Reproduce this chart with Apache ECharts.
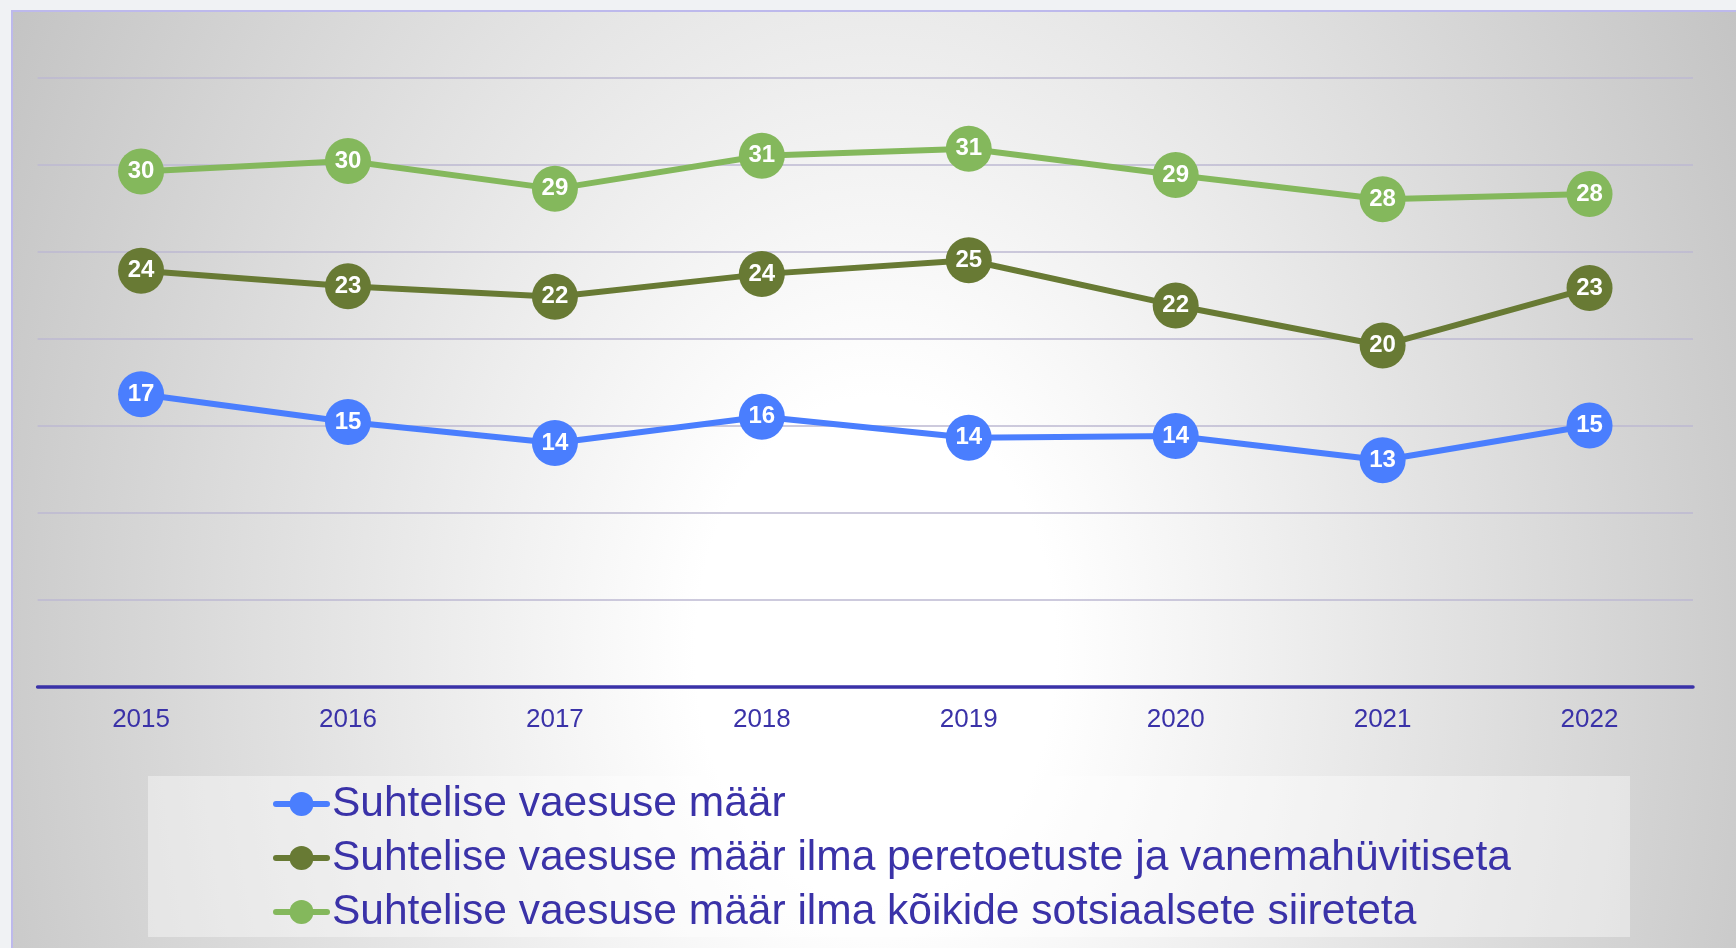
<!DOCTYPE html>
<html>
<head>
<meta charset="utf-8">
<script src="https://cdn.jsdelivr.net/npm/echarts@6/dist/echarts.min.js"></script>
<style>
  html, body { margin: 0; padding: 0; background: #f0f2f4; }
  #frame {
    position: absolute; left: 11px; top: 10px; width: 1725px; height: 938px;
    border-left: 2px solid #bdb9ec; border-top: 2px solid #bdb9ec;
    background: radial-gradient(ellipse 1000px 1400px at 50% 68%, #ffffff 0%, #ffffff 18%, #c2c2c2 100%);
  }
  #main { position: absolute; left: 0; top: 0; width: 1736px; height: 948px; }
</style>
</head>
<body>
<div id="frame"></div>
<div id="main"></div>
<script>
var years = ['2015', '2016', '2017', '2018', '2019', '2020', '2021', '2022'];
var names = [
  'Suhtelise vaesuse määr',
  'Suhtelise vaesuse määr ilma peretoetuste ja vanemahüvitiseta',
  'Suhtelise vaesuse määr ilma kõikide sotsiaalsete siireteta'
];
var relPoverty = [16.8, 15.2, 14.0, 15.5, 14.3, 14.4, 13.0, 15.0];
var noFamilyBenefits = [23.9, 23.0, 22.4, 23.7, 24.5, 21.9, 19.6, 22.9];
var noTransfers = [29.6, 30.2, 28.6, 30.5, 30.9, 29.4, 28.0, 28.3];
var colors = ['#4a7efe', '#687a34', '#84b85c'];
var ink = '#3a32a8';

var chart = echarts.init(document.getElementById('main'));

function lineSeries(name, data, color) {
  return {
    name: name,
    type: 'line',
    data: data,
    symbol: 'circle',
    symbolSize: 46,
    showAllSymbol: true,
    itemStyle: { color: color },
    lineStyle: { color: color, width: 6, cap: 'round' },
    label: {
      show: true,
      position: 'inside',
      color: '#ffffff',
      fontWeight: 'bold',
      fontSize: 24,
      fontFamily: 'Liberation Sans, Arial, sans-serif',
      formatter: function (p) { return Math.round(p.value); }
    },
    emphasis: { disabled: true }
  };
}

var option = {
  animation: false,
  textStyle: { fontFamily: 'Liberation Sans, Arial, sans-serif' },
  grid: { left: 37.6, right: 43, top: 77.5, bottom: 261.5, containLabel: false },
  xAxis: {
    type: 'category',
    data: years,
    boundaryGap: true,
    axisLine: { lineStyle: { color: ink, width: 3.5 } },
    axisTick: { show: false },
    axisLabel: { color: ink, fontSize: 26, margin: 20 }
  },
  yAxis: {
    type: 'value',
    min: 0,
    max: 35,
    interval: 5,
    axisLine: { show: false },
    axisTick: { show: false },
    axisLabel: { show: false },
    splitLine: { lineStyle: { color: '#bdb9d2', width: 1.5 } }
  },
  graphic: [{
    type: 'rect',
    shape: { x: 148, y: 776, width: 1482, height: 161 },
    style: { fill: 'rgba(255,255,255,0.4)' },
    z: -1
  }],
  legend: {
    orient: 'vertical',
    left: 148,
    top: 776,
    padding: [5, 0, 0, 125],
    itemWidth: 51,
    itemHeight: 30,
    itemGap: 8,
    selectedMode: false,
    lineStyle: { width: 6, cap: 'round' },
    textStyle: { color: ink, fontSize: 42.5, lineHeight: 46 },
    data: names
  },
  series: [
    lineSeries(names[0], relPoverty, colors[0]),
    lineSeries(names[1], noFamilyBenefits, colors[1]),
    lineSeries(names[2], noTransfers, colors[2])
  ]
};

chart.setOption(option);
</script>
</body>
</html>
